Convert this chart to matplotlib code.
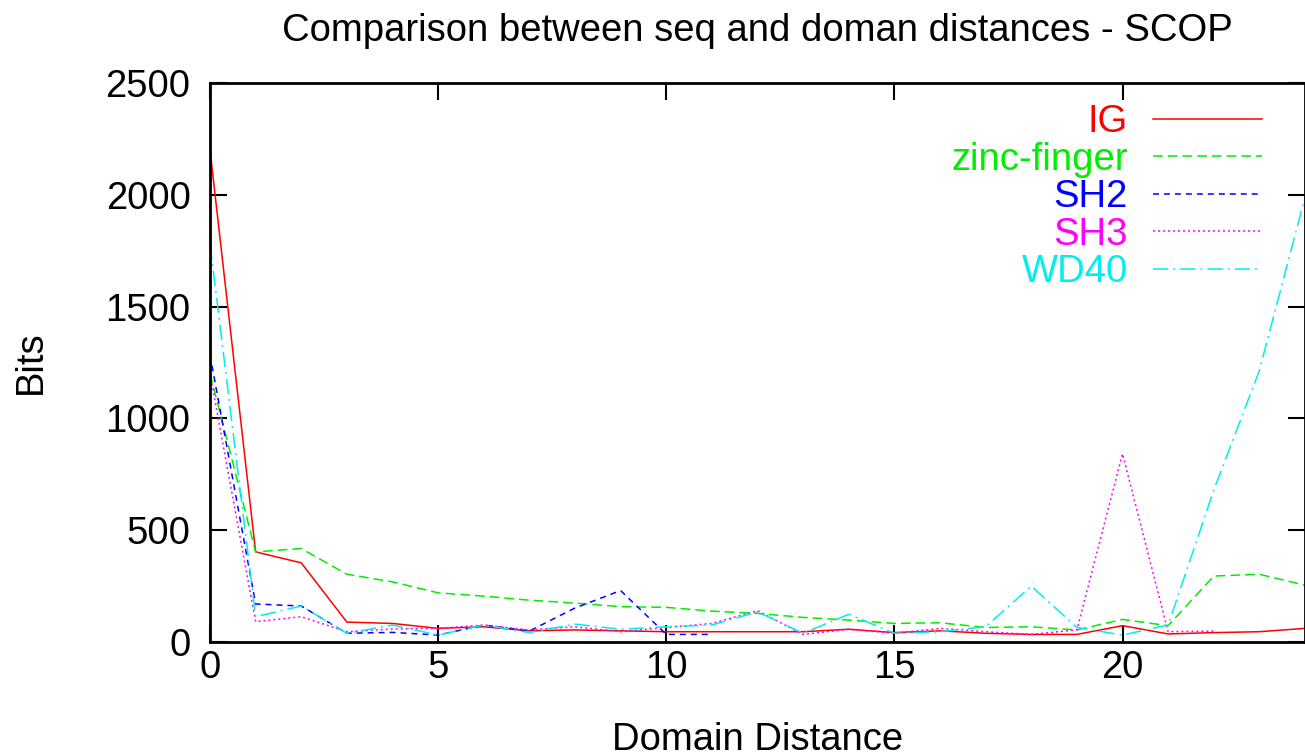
import numpy as np
import matplotlib
matplotlib.use("Agg")
import matplotlib.pyplot as plt

plt.rcParams['font.family'] = ['Liberation Sans', 'DejaVu Sans']
plt.rcParams['lines.scale_dashes'] = False

# domain distance vs bits
ig = [2200, 403, 354, 89, 83, 61, 68, 50, 54, 50, 46, 46, 46, 46, 57, 42,
      50, 39, 34, 34, 73, 36, 42, 46, 61]
zinc_finger = [1200, 403, 418, 303, 269, 220, 205, 187, 174, 158, 155, 138,
               128, 110, 98, 83, 86, 65, 68, 54, 101, 73, 295, 303, 254]
sh2 = [1285, 170, 161, 39, 43, 31, 76, 49, 152, 230, 34, 34]
sh3 = [1200, 91, 113, 46, 58, 61, 76, 54, 68, 46, 65, 83, 140, 34, 57, 39,
       61, 46, 34, 54, 842, 46, 49]
wd40 = [1781, 113, 161, 39, 76, 31, 76, 42, 80, 57, 68, 76, 135, 39, 124, 39,
        46, 68, 250, 65, 31, 76, 679, 1214, 1990]

series = [
    ('IG', ig, '#ff0000', '-'),
    ('zinc-finger', zinc_finger, '#00ee00', (0, (7, 3.6))),
    ('SH2', sh2, '#0000ff', (0, (4.3, 3.6))),
    ('SH3', sh3, '#ff00ff', (0, (1.4, 2.2))),
    ('WD40', wd40, '#00eeee', (0, (11, 3.6, 1.4, 3.6))),
]

fs = 27.5
fig = plt.figure(figsize=(13.05, 7.55), dpi=100)
ax = fig.add_axes([210 / 1305, 1 - 642 / 755, 1 - 210 / 1305, (642 - 83) / 755])

for name, vals, color, ls in series:
    x = np.arange(len(vals))
    ax.plot(x, vals, color=color, linestyle=ls, lw=1.1, label=name)

ax.set_xlim(0, 24)
ax.set_ylim(0, 2500)
ax.set_xticks([0, 5, 10, 15, 20])
ax.set_yticks([0, 500, 1000, 1500, 2000, 2500])
ax.tick_params(direction='in', length=12.5, width=1.5, top=True, right=True,
               labelsize=fs)
ax.tick_params(axis='x', pad=6)
ax.tick_params(axis='y', pad=14)
for s in ax.spines.values():
    s.set_linewidth(2)

ax.set_title('Comparison between seq and doman distances - SCOP', fontsize=fs,
             pad=30)
ax.set_xlabel('Domain Distance', fontsize=fs, labelpad=26)
ax.set_ylabel('Bits', fontsize=fs, labelpad=41)

ax.legend(loc='upper right', bbox_to_anchor=(0.9604, 0.962), frameon=False,
          markerfirst=False, labelcolor='linecolor', fontsize=fs,
          handlelength=2.85, handletextpad=0.65, labelspacing=0.04,
          borderpad=0, borderaxespad=0)

fig.savefig('out.png', dpi=100)
